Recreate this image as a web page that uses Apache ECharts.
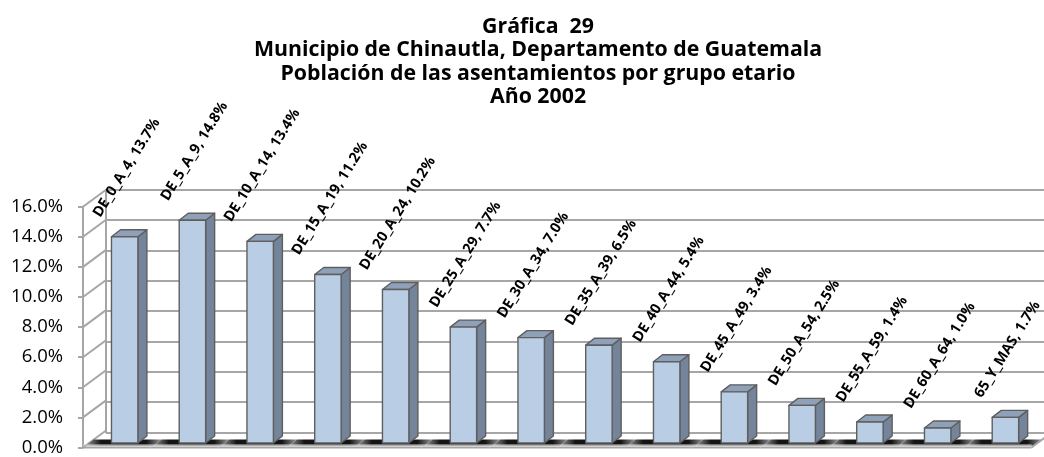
<!DOCTYPE html>
<html>
<head>
<meta charset="utf-8">
<script src="https://cdn.jsdelivr.net/npm/echarts@6/dist/echarts.min.js"></script>
<style>
  html, body { margin: 0; padding: 0; background: #fff; }
  #chart { width: 1044px; height: 457px; }
</style>
</head>
<body>
<div id="chart"></div>
<script>
// Age groups and their share of the settlements' population (%)
const categories = ['DE_0_A_4', 'DE_5_A_9', 'DE_10_A_14', 'DE_15_A_19', 'DE_20_A_24', 'DE_25_A_29',
  'DE_30_A_34', 'DE_35_A_39', 'DE_40_A_44', 'DE_45_A_49', 'DE_50_A_54', 'DE_55_A_59', 'DE_60_A_64', '65_Y_MAS'];
const shares = [13.7, 14.8, 13.4, 11.2, 10.2, 7.7, 7.0, 6.5, 5.4, 3.4, 2.5, 1.4, 1.0, 1.7];
const yTicks = [0, 2, 4, 6, 8, 10, 12, 14, 16];
const titleLines = [
  'Gráfica  29',
  'Municipio de Chinautla, Departamento de Guatemala',
  'Población de las asentamientos por grupo etario',
  'Año 2002'
];

const FONT = '"Open Sans", Lato, sans-serif';
const LABEL_SIZE = 14.5;
// 3D look: the back wall sits behind the front plane by this offset
const WALL_DX = 23, WALL_DY = -17;
// bars stand part of the way into the depth
const BAR_DX = 7.8, BAR_DY = -4.5;
// thickness of each bar (side / top faces)
const SIDE_DX = 9, SIDE_DY = -7;
const LABEL_ANGLE = 58 * Math.PI / 180;
const GRID_GRAY = '#a6a6a6';

const measureCtx = document.createElement('canvas').getContext('2d');
function textWidth(str, font) {
  measureCtx.font = font;
  return measureCtx.measureText(str).width;
}
function pct(v) { return v.toFixed(1) + '%'; }

const chart = echarts.init(document.getElementById('chart'), null, { renderer: 'canvas' });

// short diagonal from each front tick back to the wall gridline
function renderConnector(params, api) {
  const y = api.coord([0, api.value(1)])[1];
  const x0 = params.coordSys.x;
  return {
    type: 'line',
    shape: { x1: x0, y1: y, x2: x0 + WALL_DX, y2: y + WALL_DY },
    style: { stroke: GRID_GRAY, lineWidth: 2 }
  };
}

// floor slab, one piece per category band
function renderFloor(params, api) {
  const i = api.value(0);
  const c = api.coord([i, 0]);
  const bw = api.size([1, 0])[0];
  const xL = c[0] - bw / 2, xR = c[0] + bw / 2, y0 = c[1];
  const f1 = 0.12, f2 = 0.47;
  const children = [
    {
      type: 'polygon',
      shape: { points: [
        [xL + f1 * WALL_DX, y0 + f1 * WALL_DY], [xR + f1 * WALL_DX, y0 + f1 * WALL_DY],
        [xR + f2 * WALL_DX, y0 + f2 * WALL_DY], [xL + f2 * WALL_DX, y0 + f2 * WALL_DY]
      ] },
      style: {
        fill: new echarts.graphic.LinearGradient(0, 0, 1, 0, [
          { offset: 0, color: '#9a9a9a' },
          { offset: 0.2, color: '#151515' },
          { offset: 0.8, color: '#151515' },
          { offset: 1, color: '#9a9a9a' }
        ])
      }
    },
    {
      type: 'line',
      shape: { x1: xL, y1: y0, x2: xR, y2: y0 },
      style: { stroke: GRID_GRAY, lineWidth: 2 }
    },
    {
      type: 'line',
      shape: { x1: xL, y1: y0 - 2.5, x2: xR, y2: y0 - 2.5 },
      style: { stroke: '#d0d0d0', lineWidth: 1 }
    }
  ];
  if (i === categories.length - 1) {
    children.push({
      type: 'line',
      shape: { x1: xR, y1: y0, x2: xR + WALL_DX, y2: y0 + WALL_DY },
      style: { stroke: GRID_GRAY, lineWidth: 2 }
    });
  }
  return { type: 'group', children: children };
}

// 3D column with its rotated value label
function renderBar(params, api) {
  const i = api.value(0), v = api.value(1);
  const top = api.coord([i, v]);
  const base = api.coord([i, 0]);
  const w = api.size([1, 0])[0] * 0.39;
  const cx = top[0] + BAR_DX;
  const yT = top[1] + BAR_DY, yB = base[1] + BAR_DY;
  const xL = cx - w / 2, xR = cx + w / 2;
  const edge = { stroke: '#5f5f5f', lineWidth: 1.4, lineJoin: 'round' };

  const text = categories[i] + ', ' + pct(v);
  const tw = textWidth(text, 'bold ' + LABEL_SIZE + 'px ' + FONT);
  const lx = cx + 2;
  const ly = yT - 21 - (tw / 2) * Math.sin(LABEL_ANGLE);

  return {
    type: 'group',
    children: [
      {
        type: 'polygon',
        shape: { points: [[xR, yT], [xR + SIDE_DX, yT + SIDE_DY], [xR + SIDE_DX, yB + SIDE_DY], [xR, yB]] },
        style: Object.assign({ fill: '#74859b' }, edge)
      },
      {
        type: 'polygon',
        shape: { points: [[xL, yT], [xL + SIDE_DX, yT + SIDE_DY], [xR + SIDE_DX, yT + SIDE_DY], [xR, yT]] },
        style: Object.assign({ fill: '#8fa1b9' }, edge)
      },
      {
        type: 'rect',
        shape: { x: xL, y: yT, width: w, height: yB - yT },
        style: Object.assign({ fill: '#b9cde5' }, edge)
      },
      {
        type: 'text',
        x: lx, y: ly,
        rotation: LABEL_ANGLE,
        style: {
          text: text,
          fill: '#000',
          fontFamily: FONT,
          fontWeight: 'bold',
          fontSize: LABEL_SIZE,
          align: 'center',
          verticalAlign: 'middle'
        }
      }
    ]
  };
}

const frontGrid = { left: 83, top: 206.7, width: 948.5, height: 242.6 };
const wallGrid = { left: 83 + WALL_DX, top: 206.7 + WALL_DY, width: 948.5, height: 242.6 };

const option = {
  animation: false,
  backgroundColor: '#fff',
  title: {
    text: titleLines.join('\n'),
    left: 533,
    top: 10,
    textAlign: 'center',
    textStyle: { fontFamily: FONT, fontWeight: 'bold', fontSize: 21.3, lineHeight: 23.5, color: '#000' }
  },
  grid: [wallGrid, frontGrid],
  xAxis: [
    { gridIndex: 0, type: 'category', data: categories, show: false },
    { gridIndex: 1, type: 'category', data: categories, show: false }
  ],
  yAxis: [
    {
      gridIndex: 0, type: 'value', min: 0, max: 16, interval: 2,
      axisLine: { show: true, lineStyle: { color: GRID_GRAY, width: 2 } },
      axisTick: { show: false },
      axisLabel: { show: false },
      splitLine: { show: true, lineStyle: { color: GRID_GRAY, width: 2 } }
    },
    {
      gridIndex: 1, type: 'value', min: 0, max: 16, interval: 2,
      axisLine: { show: true, lineStyle: { color: GRID_GRAY, width: 2 } },
      axisTick: { show: true, length: 5, lineStyle: { color: GRID_GRAY, width: 2 } },
      axisLabel: { margin: 20, formatter: pct, fontFamily: FONT, fontSize: 18.5, color: '#000' },
      splitLine: { show: false }
    }
  ],
  series: [
    {
      type: 'custom', xAxisIndex: 1, yAxisIndex: 1,
      data: yTicks.map(function (t) { return [0, t]; }),
      renderItem: renderConnector, silent: true
    },
    {
      type: 'custom', xAxisIndex: 1, yAxisIndex: 1,
      data: categories.map(function (c, i) { return [i, 0]; }),
      renderItem: renderFloor, silent: true
    },
    {
      type: 'custom', xAxisIndex: 1, yAxisIndex: 1,
      data: shares.map(function (v, i) { return [i, v]; }),
      renderItem: renderBar
    }
  ]
};

chart.setOption(option);
</script>
</body>
</html>
